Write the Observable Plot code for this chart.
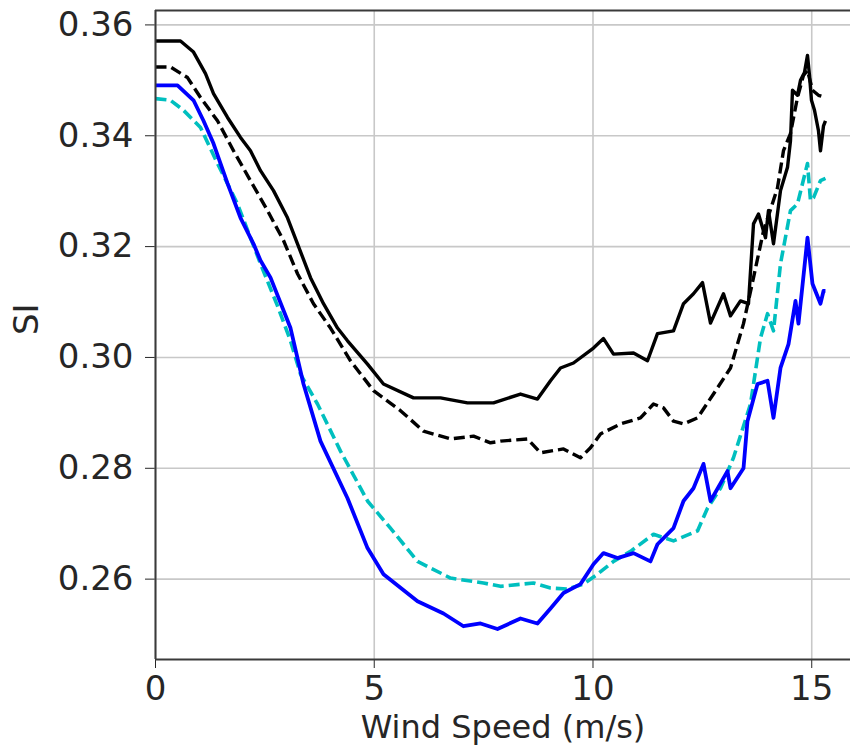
<!DOCTYPE html>
<html>
<head>
<meta charset="utf-8">
<script src="https://cdn.jsdelivr.net/npm/d3@7"></script>
<script src="https://cdn.jsdelivr.net/npm/@observablehq/plot@0.6"></script>
<style>
  html, body { margin: 0; padding: 0; background: #fff; }
  #chart svg { display: block; }
</style>
</head>
<body>
<div id="chart"></div>
<script>
// Tick values
const xTicks = [0, 5, 10, 15];
const yTicks = [0.26, 0.28, 0.30, 0.32, 0.34, 0.36];
const xLabel = "Wind Speed (m/s)";
const yLabel = "SI";

// Series: [wind speed, SI]
const blackSolid = [
  [0,0.3571],[0.571,0.3571],[0.869,0.3551],[1.143,0.3512],[1.326,0.3476],[1.646,0.3433],
  [1.943,0.3397],[2.171,0.3373],[2.4,0.3337],[2.697,0.3301],[3.017,0.3252],[3.246,0.3205],
  [3.543,0.3144],[3.84,0.3097],[4.16,0.3053],[4.389,0.3030],[4.846,0.2988],[5.211,0.2952],
  [5.897,0.2927],[6.514,0.2927],[7.131,0.2918],[7.726,0.2918],[8.343,0.2934],[8.731,0.2925],
  [9.029,0.2958],[9.257,0.2981],[9.554,0.2990],[10.011,0.3017],[10.24,0.3034],[10.469,0.3006],
  [10.926,0.3008],[11.246,0.2994],[11.474,0.3043],[11.84,0.3048],[12.069,0.3097],[12.297,0.3115],
  [12.503,0.3135],[12.686,0.3062],[12.983,0.3115],[13.143,0.3075],[13.371,0.3102],[13.554,0.3097],
  [13.669,0.3241],[13.783,0.3259],[13.943,0.3216],[14.011,0.3265],[14.126,0.3205],[14.286,0.3301],
  [14.446,0.3343],[14.514,0.3391],[14.56,0.3482],[14.674,0.3473],[14.743,0.3500],[14.834,0.3514],
  [14.903,0.3545],[14.949,0.3509],[14.994,0.3464],[15.063,0.3446],[15.154,0.3409],[15.2,0.3373],
  [15.269,0.3418],[15.314,0.3427]
];
const blackDashed = [
  [0,0.3524],[0.343,0.3524],[0.731,0.3505],[1.029,0.3469],[1.417,0.3427],[1.783,0.3373],
  [2.171,0.3319],[2.56,0.3265],[2.926,0.3211],[3.246,0.3151],[3.611,0.3097],[4.0,0.3053],
  [4.457,0.2994],[4.983,0.2940],[5.6,0.2904],[6.126,0.2867],[6.743,0.2853],[7.269,0.2858],
  [7.657,0.2846],[7.886,0.2849],[8.503,0.2853],[8.8,0.2828],[9.326,0.2835],[9.714,0.2819],
  [9.943,0.2837],[10.171,0.2862],[10.629,0.2880],[11.086,0.2891],[11.383,0.2916],[11.611,0.2909],
  [11.84,0.2885],[12.069,0.2880],[12.389,0.2891],[12.754,0.2934],[13.143,0.2981],[13.44,0.3061],
  [13.669,0.3144],[13.897,0.3228],[14.217,0.3306],[14.354,0.3373],[14.514,0.3404],[14.674,0.3469],
  [14.811,0.3509],[14.903,0.3518],[15.017,0.3482],[15.154,0.3473],[15.314,0.3469]
];
const blueSolid = [
  [0,0.3491],[0.503,0.3491],[0.869,0.3464],[1.097,0.3427],[1.326,0.3386],[1.646,0.3314],
  [1.943,0.3252],[2.24,0.3205],[2.4,0.3175],[2.629,0.3144],[3.086,0.3053],[3.383,0.2952],
  [3.771,0.2849],[4.389,0.2746],[4.846,0.2656],[5.211,0.2609],[5.989,0.2560],[6.583,0.2538],
  [7.04,0.2515],[7.429,0.2520],[7.817,0.2510],[8.343,0.2529],[8.731,0.2520],[9.029,0.2547],
  [9.326,0.2575],[9.714,0.2591],[10.011,0.2627],[10.24,0.2647],[10.56,0.2638],[10.926,0.2647],
  [11.314,0.2632],[11.474,0.2663],[11.84,0.2692],[12.069,0.2741],[12.297,0.2764],[12.526,0.2808],
  [12.686,0.2741],[13.074,0.2795],[13.143,0.2764],[13.44,0.2800],[13.531,0.2885],[13.76,0.2952],
  [13.989,0.2958],[14.126,0.2891],[14.286,0.2981],[14.469,0.3024],[14.629,0.3102],[14.697,0.3061],
  [14.903,0.3216],[15.017,0.3133],[15.2,0.3097],[15.269,0.3120],[15.314,0.3120]
];
const cyanDashed = [
  [0,0.3467],[0.343,0.3464],[0.64,0.3446],[1.029,0.3415],[1.417,0.3350],[1.874,0.3277],
  [2.171,0.3216],[2.4,0.3169],[2.789,0.3093],[3.086,0.3030],[3.314,0.2970],[3.703,0.2916],
  [4.229,0.2831],[4.846,0.2741],[5.371,0.2692],[5.989,0.2632],[6.743,0.2602],[7.497,0.2593],
  [7.886,0.2587],[8.64,0.2593],[9.029,0.2584],[9.417,0.2582],[9.783,0.2591],[10.103,0.2609],
  [10.469,0.2632],[10.857,0.2650],[11.383,0.2681],[11.84,0.2669],[12.389,0.2687],[12.617,0.2728],
  [12.914,0.2764],[13.211,0.2819],[13.6,0.2916],[13.829,0.3035],[13.989,0.3079],[14.126,0.3048],
  [14.286,0.3169],[14.514,0.3265],[14.674,0.3277],[14.903,0.3350],[14.971,0.3283],[15.04,0.3288],
  [15.2,0.3319],[15.314,0.3323]
];

const xDomain = [0, 15.886];
const yDomain = [0.2455, 0.3626];
const gridColor = "#c8c8c8";
const spineColor = "#3a3a3a";

const lineOpts = {x: d => d[0], y: d => d[1], strokeLinejoin: "round", strokeLinecap: "butt"};

const chart = Plot.plot({
  width: 850,
  height: 745,
  marginLeft: 155,
  marginRight: 0,
  marginTop: 10,
  marginBottom: 86,
  style: {fontFamily: "DejaVu Sans", fontSize: "34px", color: "#262626", background: "#fff"},
  x: {domain: xDomain, ticks: xTicks, tickSize: 9, tickPadding: 7, tickFormat: d3.format("d"), label: null},
  y: {domain: yDomain, ticks: yTicks, tickSize: 10, tickPadding: 12, tickFormat: d3.format(".2f"), label: null},
  marks: [
    Plot.ruleX(xTicks, {stroke: gridColor, strokeWidth: 1.6}),
    Plot.ruleY(yTicks, {stroke: gridColor, strokeWidth: 1.6}),
    Plot.line(blackSolid, {...lineOpts, stroke: "#000", strokeWidth: 3.4}),
    Plot.line(blackDashed, {...lineOpts, stroke: "#000", strokeWidth: 3.4, strokeDasharray: "11,5"}),
    Plot.line(cyanDashed, {...lineOpts, stroke: "#00bfbf", strokeWidth: 3.6, strokeDasharray: "11,5"}),
    Plot.line(blueSolid, {...lineOpts, stroke: "#0000ff", strokeWidth: 3.8}),
    Plot.ruleX([xDomain[0]], {stroke: spineColor, strokeWidth: 2}),
    Plot.ruleY([yDomain[0]], {stroke: spineColor, strokeWidth: 2}),
    Plot.ruleY([yDomain[1]], {stroke: spineColor, strokeWidth: 2}),
    Plot.text([xLabel], {frameAnchor: "bottom", lineAnchor: "middle", dy: 68, fontSize: 32, fill: "#262626"}),
    Plot.text([yLabel], {frameAnchor: "left", lineAnchor: "middle", rotate: -90, dx: -128, fontSize: 34, fill: "#262626"})
  ]
});
document.getElementById("chart").appendChild(chart);
</script>
</body>
</html>
